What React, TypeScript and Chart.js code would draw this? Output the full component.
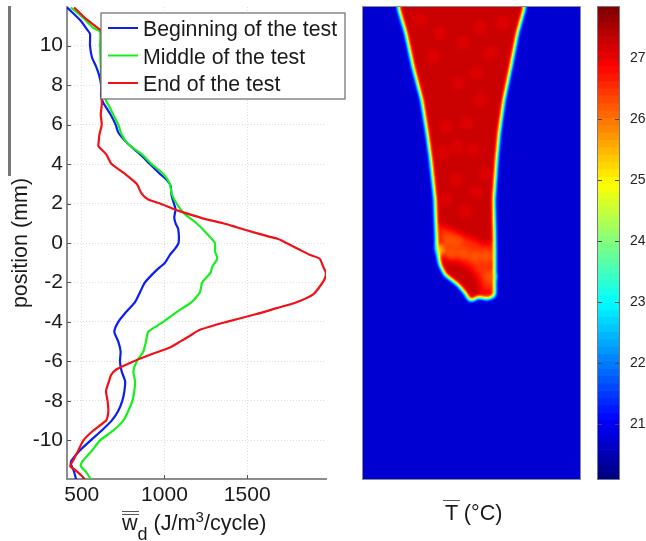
import React, { useEffect, useRef } from "react";
import { Chart, registerables } from "chart.js";

Chart.register(...registerables);

const FONT = "'Liberation Sans', Arial, sans-serif";

// Dissipated energy curves: position (mm) / w_d (J/m3/cycle)
const beginY = [11.94, 11.3, 10.8, 10.6, 10, 9.4, 9, 8.5, 8, 7.4, 7.1, 6.5, 6, 5.6, 5, 4.5, 4, 3.5, 3.2, 2.9, 2.4, 2, 1.7, 1.3, 1, 0.7, 0, -0.3, -0.6, -1, -1.4, -2, -2.5, -3, -3.5, -4, -4.5, -5, -5.5, -6, -6.5, -7, -7.5, -8, -8.5, -9, -9.5, -10, -10.5, -11, -11.2, -11.5, -11.96];
const beginW = [411, 490, 534, 550, 550, 562, 584, 605, 617, 617, 631, 675, 705, 721, 782, 852, 912, 973, 1013, 1037, 1043, 1057, 1067, 1059, 1067, 1083, 1085, 1063, 1033, 1003, 949, 882, 852, 822, 768, 721, 697, 721, 735, 731, 741, 762, 758, 745, 721, 681, 621, 554, 490, 440, 434, 450, 466];

const middleY = [11.94, 11.4, 10.9, 10.7, 10, 8, 7.2, 7, 6.5, 6, 5.5, 5, 4.5, 4, 3.5, 3, 2.5, 2, 1.5, 1, 0.5, 0, -0.4, -0.8, -1.2, -1.5, -2, -2.5, -3, -3.5, -4, -4.5, -5, -5.5, -6, -6.5, -7, -7.5, -8, -8.5, -9, -9.5, -10, -10.5, -11, -11.3, -11.6, -11.96];
const middleW = [434, 510, 570, 611, 611, 621, 647, 661, 691, 721, 741, 782, 862, 922, 993, 1033, 1043, 1073, 1118, 1194, 1254, 1305, 1305, 1319, 1289, 1279, 1228, 1214, 1164, 1073, 993, 902, 888, 872, 832, 812, 822, 818, 806, 782, 751, 691, 611, 564, 510, 494, 526, 554];

const endY = [11.94, 11.4, 11, 10.7, 8, 7.4, 7, 6.5, 6, 5.5, 5, 4.9, 4.5, 4, 3.5, 3, 2.5, 2.2, 2, 1.7, 1.5, 1.2, 1, 0.8, 0.5, 0.2, 0, -0.3, -0.6, -0.8, -1.2, -1.5, -1.8, -2.2, -2.6, -3, -3.3, -3.6, -4, -4.4, -4.7, -5, -5.3, -5.6, -6, -6.4, -6.7, -7, -7.5, -8, -8.5, -8.8, -9, -9.5, -10, -10.5, -11, -11.3, -11.5, -11.96];
const endW = [454, 520, 580, 621, 620, 621, 621, 615, 621, 607, 601, 601, 647, 681, 762, 832, 862, 902, 973, 1063, 1134, 1254, 1355, 1436, 1556, 1687, 1737, 1808, 1878, 1938, 1959, 1975, 1969, 1939, 1899, 1798, 1677, 1556, 1375, 1214, 1154, 1094, 1033, 933, 812, 711, 677, 665, 647, 656, 661, 656, 647, 570, 510, 480, 450, 430, 460, 520];

const seriesLabels = ["Beginning of the test", "Middle of the test", "End of the test"];
const seriesColors = ["#0a1ef0", "#16f01a", "#f01018"];

const wTicks = [500, 1000, 1500];
const positionTicks = [-10, -8, -6, -4, -2, 0, 2, 4, 6, 8, 10];
const temperatureTicks = [21, 22, 23, 24, 25, 26, 27];

// Thermal map: outlines in mm, and their temperature in deg C
const specimenX = [-3.95, -3.725, -3.335, -2.965, -2.524, -2.255, -2.068, -1.85, -1.8, -1.75, -1.7, -1.6, -1.34, -1, -0.68, -0.33, -0.18, -0.04, 0.18, 0.33, 0.79, 1.09, 1.19, 1.19, 1.14, 1.28, 1.41, 1.65, 2, 2.34, 2.71, 2.9];
const specimenY = [12.6, 11.96, 10.64, 8.92, 7.25, 5.58, 4.21, 2.18, 0.66, -0.35, -0.61, -1.12, -1.62, -1.88, -2.13, -2.53, -2.79, -2.94, -2.84, -2.74, -2.84, -2.74, -2.38, -0.35, 2.18, 4.21, 5.58, 7.25, 8.92, 10.64, 11.96, 12.6];
const patchAX = [-1.7, -0.99, -0.43, 0.08, 0.58, 1.14, 1.19, 0.53, 0.28, -0.08, -0.73, -1.5, -1.8];
const patchAY = [1.01, 0.76, 0.51, 0.3, 0.05, 0.05, -2.69, -2.74, -1.88, -1.37, -1.01, -0.86, -0.35];
const patchBX = [-1.6, -0.99, -0.43, 0.08, 0.58, 1.04, 1.04, 0.73, 0.43, 0.03, -0.68, -1.44];
const patchBY = [0.76, 0.56, 0.25, 0.05, -0.2, -0.2, -2.28, -2.38, -1.62, -1.12, -0.76, -0.61];
const spotX = [-1.77, -1.5, -1.34, -1.55, -1.75];
const spotY = [-0.15, -0.05, -0.35, -0.66, -0.56];
const frameX = [-5.5, 5.5, 5.5, -5.5];
const frameY = [12.6, 12.6, -12.6, -12.6];
const brightX = [-0.68, 0.26, -1.26, -0.24, 0.43, -1.6, 0.43, -0.43, -2.61, 1.6, 0.94, -1.95, -0.73, 0.08, -1.44, -0.8, 0.2, -0.3, 0.7, -1.3];
const brightY = [8.11, 8.62, 5.88, 6.08, 7.25, 10.64, 10.95, 10.14, 11.3, 11.15, 9.63, 9.43, 4.87, 4.71, 4.56, 3.2, 2.6, 1.6, 3.5, 2.2];
const orangeX = [-1.18, -0.75, -1, -0.42, 0.18, 0.77, 0.94];
const orangeY = [0.15, 0.07, -0.52, -0.52, -0.69, -0.69, -1.71];

const T_BACKGROUND = 20.75;
const T_SPECIMEN = 27.27;
const T_BRIGHT = 27.14;
const T_PATCH_A = 26.85;
const T_PATCH_B = 26.5;
const T_ORANGE = 26.25;
const T_SPOT = 25.6;

const T_MIN = 20.1;
const T_MAX = 27.84;
const LEVELS = 64;

const clamp01 = (v: number) => Math.max(0, Math.min(1, v));
const jet = (f: number): [number, number, number] => [
  Math.round(255 * clamp01(Math.min(4 * f - 1.5, -4 * f + 4.5))),
  Math.round(255 * clamp01(Math.min(4 * f - 0.5, -4 * f + 3.5))),
  Math.round(255 * clamp01(Math.min(4 * f + 0.5, -4 * f + 2.5))),
];
const zip = (xs: number[], ys: number[]) => xs.map((x, i) => ({ x, y: ys[i] }));
const grey = (t: number) => {
  const g = Math.round((255 * (t - T_MIN)) / (T_MAX - T_MIN));
  return `rgb(${g},${g},${g})`;
};
const fixTicks = (values: number[]) => (s: any) => {
  s.ticks = values.map((value) => ({ value }));
};
const fixBox = (size: { width?: number; height?: number }) => (s: any) => {
  if (size.width) s.width = size.width;
  if (size.height) s.height = size.height;
  s.paddingTop = 0;
  s.paddingBottom = 0;
  s.paddingLeft = 0;
  s.paddingRight = 0;
};

const inwardTicks = {
  id: "inwardTicks",
  afterDatasetsDraw(chart: any) {
    const { ctx, chartArea: a, scales } = chart;
    ctx.save();
    ctx.strokeStyle = "#555";
    ctx.lineWidth = 1;
    ctx.beginPath();
    for (const t of scales.x.ticks) {
      const p = Math.round(scales.x.getPixelForValue(t.value)) + 0.5;
      ctx.moveTo(p, a.bottom);
      ctx.lineTo(p, a.bottom - 4);
    }
    for (const t of scales.y.ticks) {
      const p = Math.round(scales.y.getPixelForValue(t.value)) + 0.5;
      ctx.moveTo(a.left, p);
      ctx.lineTo(a.left + 4, p);
    }
    ctx.stroke();
    ctx.restore();
  },
};

const boxLegend = {
  id: "boxLegend",
  afterDraw(chart: any) {
    const { ctx } = chart;
    ctx.save();
    ctx.fillStyle = "#fff";
    ctx.strokeStyle = "#6a6a6a";
    ctx.lineWidth = 1.2;
    ctx.fillRect(101, 13, 244, 86);
    ctx.strokeRect(101, 13, 244, 86);
    ctx.font = `21.3px ${FONT}`;
    ctx.textBaseline = "alphabetic";
    const rows = [36, 63.5, 91];
    chart.data.datasets.forEach((d: any, i: number) => {
      ctx.strokeStyle = d.borderColor;
      ctx.lineWidth = 2;
      ctx.beginPath();
      ctx.moveTo(108, rows[i] - 8);
      ctx.lineTo(138, rows[i] - 8);
      ctx.stroke();
      ctx.fillStyle = "#1a1a1a";
      ctx.fillText(d.label, 143, rows[i]);
    });
    ctx.restore();
  },
};

const thermal = {
  id: "thermal",
  afterDatasetsDraw(chart: any) {
    const { ctx, chartArea: a, canvas } = chart;
    ctx.save();
    ctx.beginPath();
    ctx.rect(a.left, a.top, a.right - a.left, a.bottom - a.top);
    ctx.clip();
    chart.data.datasets.forEach((d: any, i: number) => {
      const meta = chart.getDatasetMeta(i);
      ctx.fillStyle = d.backgroundColor;
      if (d.showLine) {
        ctx.beginPath();
        meta.dataset.path(ctx);
        ctx.closePath();
        ctx.fill();
      } else {
        for (const p of meta.data) {
          ctx.beginPath();
          ctx.arc(p.x, p.y, d.blobRadius, 0, Math.PI * 2);
          ctx.fill();
        }
      }
    });
    ctx.restore();
    const w = a.right - a.left;
    const h = a.bottom - a.top;
    const tmp = document.createElement("canvas");
    tmp.width = w;
    tmp.height = h;
    const t = tmp.getContext("2d", { willReadFrequently: true })!;
    (t as any).filter = "blur(1.9px)";
    t.drawImage(canvas, a.left, a.top, w, h, 0, 0, w, h);
    const img = t.getImageData(0, 0, w, h);
    const px = img.data;
    for (let i = 0; i < px.length; i += 4) {
      const [r, g, b] = jet(px[i] / 255);
      px[i] = r;
      px[i + 1] = g;
      px[i + 2] = b;
      px[i + 3] = 255;
    }
    ctx.putImageData(img, a.left, a.top);
    ctx.save();
    ctx.strokeStyle = "#8a8a8a";
    ctx.lineWidth = 1;
    ctx.strokeRect(a.left - 0.5, a.top - 0.5, w + 1, h + 1);
    ctx.restore();
  },
};

const barTicks = {
  id: "barTicks",
  afterDatasetsDraw(chart: any) {
    const { ctx, chartArea: a, scales } = chart;
    ctx.save();
    ctx.strokeStyle = "#777";
    ctx.lineWidth = 1;
    ctx.strokeRect(a.left - 0.5, a.top - 0.5, a.right - a.left + 1, a.bottom - a.top + 1);
    ctx.strokeStyle = "#444";
    ctx.beginPath();
    for (const t of scales.y.ticks) {
      const p = Math.round(scales.y.getPixelForValue(t.value)) + 0.5;
      ctx.moveTo(a.left, p);
      ctx.lineTo(a.left + 4, p);
      ctx.moveTo(a.right, p);
      ctx.lineTo(a.right - 4, p);
    }
    ctx.stroke();
    ctx.restore();
  },
};

export default function App() {
  const leftRef = useRef<HTMLCanvasElement>(null);
  const heatRef = useRef<HTMLCanvasElement>(null);
  const barRef = useRef<HTMLCanvasElement>(null);

  useEffect(() => {
    const line = (i: number, xs: number[], ys: number[], order: number) => ({
      label: seriesLabels[i],
      data: zip(xs, ys),
      borderColor: seriesColors[i],
      borderWidth: 2.2,
      pointRadius: 0,
      showLine: true,
      tension: 0.2,
      order,
    });
    const grid = { color: "#dcdcdc", drawTicks: false, lineWidth: 1 };
    const border = { color: "#8c8c8c", width: 2, dash: [1, 2] };
    const left = new Chart(leftRef.current!, {
      type: "scatter",
      data: {
        datasets: [
          line(0, beginW, beginY, 3),
          line(1, middleW, middleY, 2),
          line(2, endW, endY, 1),
        ],
      },
      plugins: [inwardTicks, boxLegend],
      options: {
        animation: false,
        responsive: false,
        devicePixelRatio: 1,
        layout: { padding: { top: 7, right: 29, left: 0, bottom: 0 } },
        plugins: { legend: { display: false }, tooltip: { enabled: false } },
        scales: {
          x: {
            type: "linear",
            min: 411,
            max: 1976,
            grid,
            border,
            afterBuildTicks: fixTicks(wTicks),
            ticks: { autoSkip: false, maxRotation: 0, padding: 4, color: "#1a1a1a", font: { family: FONT, size: 21 }, callback: (v: number) => String(v) },
            afterFit: fixBox({ height: 62 }),
          },
          y: {
            type: "linear",
            min: -11.96,
            max: 11.96,
            grid,
            border,
            title: { display: true, text: "position (mm)", color: "#1a1a1a", font: { family: FONT, size: 21.5 }, padding: { top: 8, bottom: 0 } },
            afterBuildTicks: fixTicks(positionTicks),
            ticks: { autoSkip: false, padding: 4, color: "#1a1a1a", font: { family: FONT, size: 21 }, callback: (v: number) => String(v) },
            afterFit: fixBox({ width: 67 }),
          },
        },
      },
    } as any);

    const shape = (xs: number[], ys: number[], t: number, label: string) => ({
      label,
      data: zip(xs, ys),
      backgroundColor: grey(t),
      borderColor: "transparent",
      borderWidth: 1,
      pointRadius: 0,
      showLine: true,
      tension: 0,
    });
    const blobs = (xs: number[], ys: number[], t: number, label: string, blobRadius: number) => ({
      label,
      data: zip(xs, ys),
      backgroundColor: grey(t),
      pointRadius: 0,
      showLine: false,
      blobRadius,
    });
    const heat = new Chart(heatRef.current!, {
      type: "scatter",
      data: {
        datasets: [
          shape(frameX, frameY, T_BACKGROUND, "background"),
          shape(specimenX, specimenY, T_SPECIMEN, "specimen"),
          blobs(brightX, brightY, T_BRIGHT, "bright mottling", 7),
          shape(patchAX, patchAY, T_PATCH_A, "patch A"),
          shape(patchBX, patchBY, T_PATCH_B, "patch B"),
          blobs(orangeX, orangeY, T_ORANGE, "orange mottling", 6),
          shape(spotX, spotY, T_SPOT, "hot spot"),
        ],
      },
      plugins: [thermal],
      options: {
        animation: false,
        responsive: false,
        devicePixelRatio: 1,
        layout: { padding: { top: 7, left: 3, right: 4, bottom: 5 } },
        plugins: { legend: { display: false }, tooltip: { enabled: false } },
        scales: {
          x: { type: "linear", display: false, min: -5.5, max: 5.5 },
          y: { type: "linear", display: false, min: -11.96, max: 11.96 },
        },
      },
    } as any);

    const step = (T_MAX - T_MIN) / LEVELS;
    const levels = Array.from({ length: LEVELS }, (_, i) => T_MIN + (i + 0.5) * step);
    const bar = new Chart(barRef.current!, {
      type: "bar",
      data: {
        datasets: [
          {
            label: "colour bar",
            data: levels.map((y) => ({ x: 1, y })),
            backgroundColor: levels.map((_, i) => {
              const [r, g, b] = jet((i + 0.5) / LEVELS);
              return `rgb(${r},${g},${b})`;
            }),
            borderWidth: 0,
            barPercentage: 1,
            categoryPercentage: 1,
            grouped: false,
          },
        ],
      },
      plugins: [barTicks],
      options: {
        animation: false,
        responsive: false,
        devicePixelRatio: 1,
        indexAxis: "y",
        layout: { padding: { top: 7, left: 8, right: 0, bottom: 11 } },
        plugins: { legend: { display: false }, tooltip: { enabled: false } },
        scales: {
          x: { type: "linear", display: false, min: 0, max: 1 },
          y: {
            type: "linear",
            position: "right",
            offset: false,
            min: T_MIN,
            max: T_MAX,
            grid: { display: false, offset: false, drawTicks: false, tickLength: 0 },
            border: { display: false },
            afterBuildTicks: fixTicks(temperatureTicks),
            ticks: { autoSkip: false, padding: 11, color: "#222", font: { family: FONT, size: 14 }, callback: (v: number) => String(v) },
            afterFit: fixBox({ width: 27 }),
          },
        },
      },
    } as any);
    return () => {
      left.destroy();
      heat.destroy();
      bar.destroy();
    };
  }, []);

  const abs: React.CSSProperties = { position: "absolute" };
  const label: React.CSSProperties = { ...abs, fontFamily: FONT, fontSize: 21.6, color: "#1a1a1a", lineHeight: "24px", whiteSpace: "nowrap" };
  const rule: React.CSSProperties = { ...abs, height: 1, background: "#555" };
  return (
    <div style={{ position: "fixed", left: 0, top: 0, width: 646, height: 541, background: "#fff", overflow: "hidden", filter: "blur(0.45px)" }}>
      <canvas ref={leftRef} width={355} height={541} style={{ ...abs, left: 0, top: 0 }} />
      <canvas ref={heatRef} width={224} height={484} style={{ ...abs, left: 360, top: 0 }} />
      <canvas ref={barRef} width={56} height={490} style={{ ...abs, left: 590, top: 0 }} />
      <div style={{ ...abs, left: 8, top: 6, width: 2.5, height: 170, background: "#777" }} />
      <div style={{ ...label, left: 122, top: 511 }}>
        w<span style={{ fontSize: 18, position: "relative", top: 10 }}>d</span>
        <span> (J/m</span>
        <span style={{ fontSize: 15, position: "relative", top: -8 }}>3</span>
        <span>/cycle)</span>
      </div>
      <div style={{ ...rule, left: 122, top: 511, width: 17 }} />
      <div style={{ ...rule, left: 122, top: 514, width: 17 }} />
      <div style={{ ...label, left: 445, top: 501 }}>T (°C)</div>
      <div style={{ ...rule, left: 443, top: 500, width: 17 }} />
    </div>
  );
}
